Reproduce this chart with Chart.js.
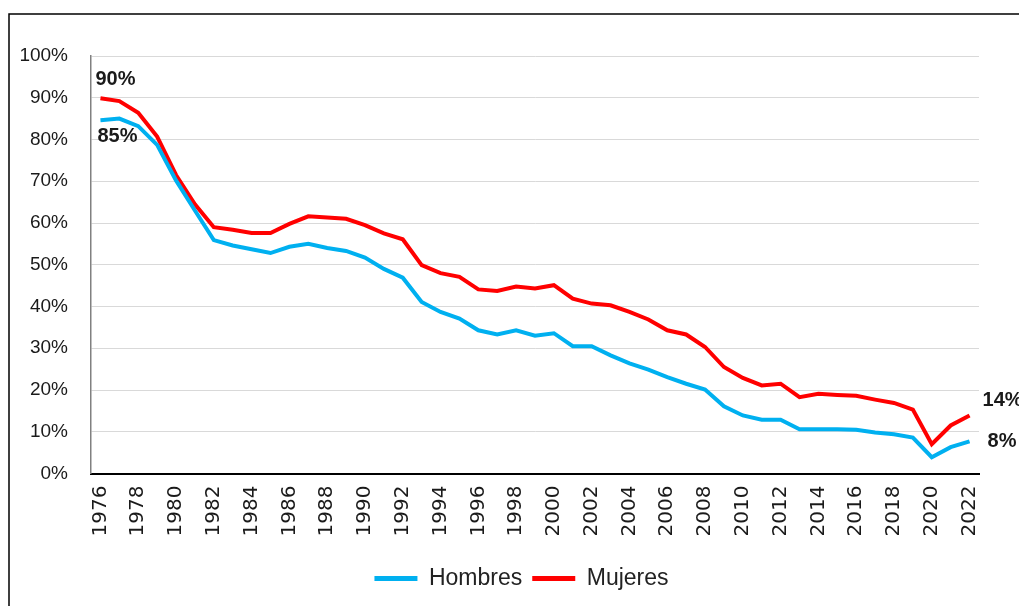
<!DOCTYPE html>
<html>
<head>
<meta charset="utf-8">
<script src="https://cdn.jsdelivr.net/npm/chart.js@4.4.1/dist/chart.umd.min.js"></script>
<style>
  html, body { margin: 0; padding: 0; background: #fff; }
  #wrap { width: 1019px; height: 606px; position: relative; }
</style>
</head>
<body>
<div id="wrap"><canvas id="grafico"></canvas></div>
<script>
// Años (categorías del eje X)
const years = [
  '1976', '1977', '1978', '1979', '1980', '1981', '1982', '1983', '1984', '1985',
  '1986', '1987', '1988', '1989', '1990', '1991', '1992', '1993', '1994', '1995',
  '1996', '1997', '1998', '1999', '2000', '2001', '2002', '2003', '2004', '2005',
  '2006', '2007', '2008', '2009', '2010', '2011', '2012', '2013', '2014', '2015',
  '2016', '2017', '2018', '2019', '2020', '2021', '2022'
];

// Porcentajes
const hombres = [
  84.6, 85.0, 83.2, 78.7, 70.2, 63.0, 55.9, 54.6, 53.7, 52.8,
  54.3, 55.0, 54.0, 53.3, 51.7, 49.0, 46.9, 41.1, 38.7, 37.1,
  34.3, 33.3, 34.3, 33.0, 33.6, 30.5, 30.5, 28.3, 26.4, 24.9,
  23.1, 21.5, 20.1, 16.1, 13.9, 12.9, 12.9, 10.6, 10.6, 10.6,
  10.5, 9.8, 9.4, 8.6, 3.9, 6.3, 7.7
];
const mujeres = [
  89.9, 89.2, 86.4, 80.7, 71.5, 64.5, 59.0, 58.4, 57.6, 57.6,
  59.8, 61.6, 61.3, 61.0, 59.5, 57.5, 56.1, 49.9, 48.0, 47.1,
  44.1, 43.7, 44.8, 44.3, 45.1, 41.9, 40.7, 40.3, 38.7, 36.9,
  34.3, 33.3, 30.3, 25.5, 22.9, 21.1, 21.5, 18.3, 19.1, 18.8,
  18.6, 17.7, 16.9, 15.3, 7.0, 11.5, 13.9
];

// Marcas del eje Y
const yTicks = [0, 10, 20, 30, 40, 50, 60, 70, 80, 90, 100];

// Etiquetas de datos: serie, índice, texto
const dataLabels = [
  { serie: 1, index: 0, text: '90%' },
  { serie: 0, index: 0, text: '85%' },
  { serie: 1, index: 46, text: '14%' },
  { serie: 0, index: 46, text: '8%' }
];
// desplazamientos respecto al punto (px)
const labelOffsets = [
  { dx: -5, dy: -19 },
  { dx: -3, dy: 16 },
  { dx: 13, dy: -15 },
  { dx: 18, dy: 0 }
];

// Marco y fondo
const framePlugin = {
  id: 'frame',
  beforeDraw(chart) {
    const c = chart.ctx;
    c.save();
    c.fillStyle = '#ffffff';
    c.fillRect(0, 0, chart.width, chart.height);
    c.strokeStyle = '#000000';
    c.lineWidth = 1.5;
    c.beginPath();
    c.moveTo(9, chart.height);
    c.lineTo(9, 14);
    c.lineTo(chart.width, 14);
    c.stroke();
    c.restore();
  }
};

// Centrar la leyenda bajo el área del gráfico
const legendShiftPlugin = {
  id: 'legendShift',
  afterUpdate(chart) {
    const lg = chart.legend;
    if (!lg) return;
    lg.left += 32;
    lg.right += 32;
  }
};

// Dibuja las etiquetas de los extremos
const endLabelsPlugin = {
  id: 'endLabels',
  afterDatasetsDraw(chart) {
    const c = chart.ctx;
    c.save();
    c.font = 'bold 20px "Liberation Sans", Arial, sans-serif';
    c.fillStyle = '#1a1a1a';
    c.textAlign = 'left';
    c.textBaseline = 'middle';
    dataLabels.forEach((lbl, i) => {
      const pt = chart.getDatasetMeta(lbl.serie).data[lbl.index];
      if (!pt) return;
      c.fillText(lbl.text, pt.x + labelOffsets[i].dx, pt.y + labelOffsets[i].dy);
    });
    c.restore();
  }
};

const ctx = document.getElementById('grafico');

new Chart(ctx, {
  type: 'line',
  data: {
    labels: years,
    datasets: [
      {
        label: 'Hombres',
        data: hombres,
        borderColor: '#00B0F0',
        backgroundColor: '#00B0F0',
        borderWidth: 4,
        pointRadius: 0,
        tension: 0
      },
      {
        label: 'Mujeres',
        data: mujeres,
        borderColor: '#FF0000',
        backgroundColor: '#FF0000',
        borderWidth: 4,
        pointRadius: 0,
        tension: 0
      }
    ]
  },
  options: {
    responsive: true,
    maintainAspectRatio: false,
    animation: false,
    layout: {
      padding: { left: 0, right: 40, top: 56, bottom: 6 }
    },
    plugins: {
      tooltip: { enabled: false },
      legend: {
        position: 'bottom',
        labels: {
          boxWidth: 43,
          boxHeight: 5,
          padding: 10,
          color: '#222222',
          font: { family: '"Liberation Sans", Arial, sans-serif', size: 23 },
          generateLabels: function (chart) {
            const items = Chart.defaults.plugins.legend.labels.generateLabels(chart);
            return items.map(it => Object.assign(it, { lineWidth: 0 }));
          }
        }
      }
    },
    scales: {
      x: {
        type: 'category',
        offset: true,
        grid: { display: false, drawTicks: false },
        border: { display: true, color: '#000000', width: 2 },
        ticks: {
          autoSkip: false,
          minRotation: 90,
          maxRotation: 90,
          padding: 12,
          color: '#1a1a1a',
          font: { family: '"DejaVu Sans", Verdana, sans-serif', size: 20 },
          callback: function (value, index) {
            return index % 2 === 0 ? years[index] : '';
          }
        },
        afterFit: function (scale) { scale.height = 83.5; }
      },
      y: {
        min: 0,
        max: 100,
        grid: { color: '#d9d9d9', lineWidth: 1, drawTicks: false },
        border: { display: true, color: '#808080', width: 1.5 },
        afterBuildTicks: function (scale) {
          scale.ticks = yTicks.map(v => ({ value: v }));
        },
        ticks: {
          padding: 23,
          color: '#1a1a1a',
          font: { family: '"Liberation Sans", Arial, sans-serif', size: 19 },
          callback: function (value) { return value + '%'; }
        },
        afterFit: function (scale) { scale.width = 91; }
      }
    }
  },
  plugins: [framePlugin, legendShiftPlugin, endLabelsPlugin]
});
</script>
</body>
</html>
